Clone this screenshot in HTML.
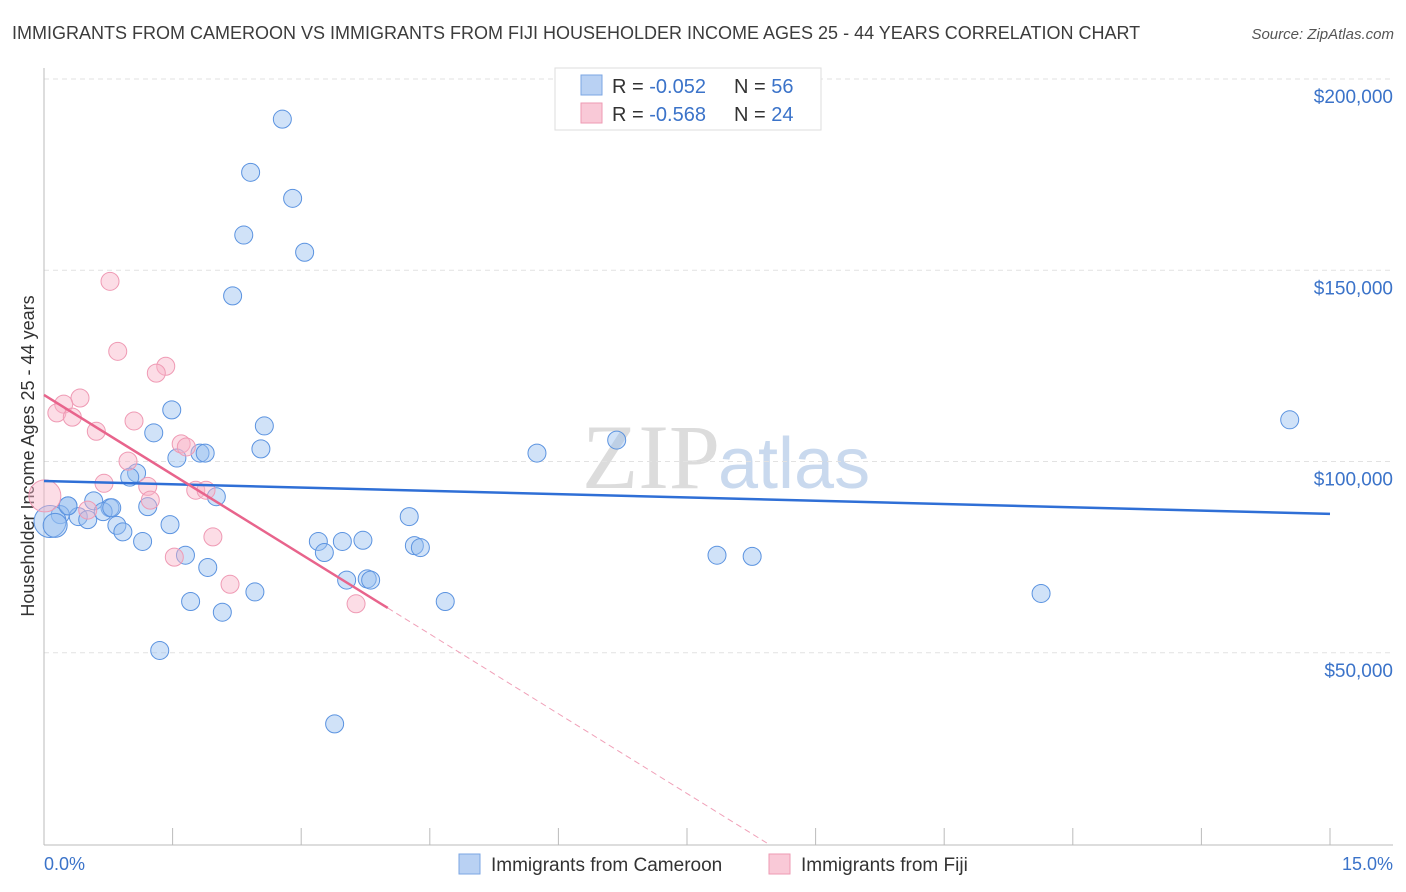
<!DOCTYPE html>
<html><head><meta charset="utf-8"><style>
body{margin:0;background:#fff;font-family:"Liberation Sans",sans-serif;}
svg{display:block}
</style></head><body>
<svg id="chart" width="1406" height="892" xmlns="http://www.w3.org/2000/svg">
<text x="12" y="39" font-size="18" fill="#3c3c3c">IMMIGRANTS FROM CAMEROON VS IMMIGRANTS FROM FIJI HOUSEHOLDER INCOME AGES 25 - 44 YEARS CORRELATION CHART</text>
<text x="1394" y="39" font-size="15" fill="#555" font-style="italic" text-anchor="end">Source: ZipAtlas.com</text>
<text x="720" y="488" font-size="92" fill="#dcdcdc" text-anchor="end" font-family="Liberation Serif">ZIP</text>
<text x="718" y="488" font-size="72" fill="#c9d9ee">atlas</text>
<g id="grid"></g>
<line x1="44" y1="68" x2="44" y2="845" stroke="#bbb"/>
<line x1="44" y1="845" x2="1393" y2="845" stroke="#bbb"/>
<g id="xticks"></g>
<g id="ylabels"></g>
<text transform="translate(34,456) rotate(-90)" font-size="18" fill="#333" text-anchor="middle">Householder Income Ages 25 - 44 years</text>
<text x="44" y="870" font-size="18" fill="#3b73c9">0.0%</text>
<text x="1393" y="870" font-size="18" fill="#3b73c9" text-anchor="end">15.0%</text>
<g id="points"></g>
<g id="trends"></g>
<g>
<rect x="555" y="68" width="266" height="62" fill="#fff" stroke="#ddd"/>
<rect x="581" y="75" width="21" height="20" fill="#b9d1f3" stroke="#7ba6e3"/>
<rect x="581" y="103" width="21" height="20" fill="#f9c9d7" stroke="#ee9ab3"/>
<text x="612" y="93" font-size="20" fill="#333">R = <tspan fill="#3b73c9">-0.052</tspan><tspan x="734">N = </tspan><tspan fill="#3b73c9">56</tspan></text>
<text x="612" y="121" font-size="20" fill="#333">R = <tspan fill="#3b73c9">-0.568</tspan><tspan x="734">N = </tspan><tspan fill="#3b73c9">24</tspan></text>
</g>
<g>
<rect x="459" y="854" width="21" height="20" fill="#b9d1f3" stroke="#7ba6e3"/>
<text x="491" y="871" font-size="19" fill="#333">Immigrants from Cameroon</text>
<rect x="769" y="854" width="21" height="20" fill="#f9c9d7" stroke="#ee9ab3"/>
<text x="801" y="871" font-size="19" fill="#333">Immigrants from Fiji</text>
</g>
</svg>
<script>
const yTicks=[50000,100000,150000,200000];
const yTickLabels=["$50,000","$100,000","$150,000","$200,000"];
const xTicks=[0,1.5,3,4.5,6,7.5,9,10.5,12,13.5,15];
const blueX=[2.78,2.41,2.90,2.33,3.04,2.20,1.49,2.57,1.28,2.53,1.55,1.82,1.88,1.08,1.00,2.01,0.58,0.28,0.77,1.21,0.19,0.40,0.51,0.69,0.07,0.13,0.85,0.92,1.47,1.15,1.65,1.91,1.71,2.08,1.35,2.46,3.20,3.27,3.48,3.72,3.53,3.77,3.81,4.26,4.32,4.39,4.68,3.39,5.75,6.68,7.85,8.26,11.63,14.53,0.79,0.28];
const blueY=[189.5,175.6,168.8,159.2,154.7,143.3,113.5,109.3,107.5,103.3,100.9,102.2,102.2,97.0,95.9,90.8,89.7,88.4,87.9,88.2,86.1,85.6,84.8,86.9,84.3,83.3,83.3,81.6,83.5,79.1,75.5,72.3,63.4,60.6,50.6,65.9,79.1,76.2,79.1,79.4,69.0,69.3,69.0,85.6,78.0,77.5,63.4,31.4,102.2,105.6,75.5,75.2,65.5,110.9,87.9,88.4];
const blueR=[9,9,9,9,9,9,9,9,9,9,9,9,9,9,9,9,9,9,9,9,9,9,9,9,16,12,9,9,9,9,9,9,9,9,9,9,9,9,9,9,9,9,9,9,9,9,9,9,9,9,9,9,9,9,9,9];
const pinkX=[0.77,0.86,1.42,1.31,0.42,0.23,0.15,0.33,0.61,1.05,0.98,1.60,1.66,0.70,1.21,1.24,0.51,1.77,1.89,1.97,1.52,2.17,3.64,0.01];
const pinkY=[147.1,128.8,124.9,123.1,116.6,115.0,112.7,111.6,107.9,110.6,100.1,104.6,103.8,94.3,93.5,89.9,87.3,92.5,92.5,80.3,75.0,67.9,62.8,91.0];
const pinkR=[9,9,9,9,9,9,9,9,9,9,9,9,9,9,9,9,9,9,9,9,9,9,9,16];
const blueTrend=[[0,94.9],[15,86.3]];
const pinkTrend=[[0,117.4],[4.01,61.7],[8.45,0]];
const NS="http://www.w3.org/2000/svg";
const X0=44,XW=1286,Y0=844,YH=765;
function xs(v){return X0+v/15*XW;}
function ys(v){return Y0-v/200*YH;}
function mk(tag,attrs,parent){const e=document.createElementNS(NS,tag);for(const k in attrs)e.setAttribute(k,attrs[k]);document.getElementById(parent).appendChild(e);return e;}
yTicks.forEach((t,i)=>{
 const y=ys(t/1000);
 const l=mk('line',{x1:44,x2:1393,y1:y,y2:y,stroke:'#e2e2e2','stroke-dasharray':'5,4'},'grid');
 
 
 const tx=mk('text',{x:1393,y:y+24,'font-size':19,fill:'#3b73c9','text-anchor':'end'},'ylabels');
 tx.textContent=yTickLabels[i];
 
 
});
xTicks.forEach(t=>{
 const x=xs(t);
 const l=mk('line',{x1:x,x2:x,y1:828,y2:845,stroke:'#bbb'},'xticks');
 
 
});
blueX.forEach((v,i)=>{
 const c=mk('circle',{cx:xs(v),cy:ys(blueY[i]),r:blueR[i],fill:'rgba(150,190,240,0.45)',stroke:'#5b93e0','stroke-width':1},'points');
 
 
});
pinkX.forEach((v,i)=>{
 const c=mk('circle',{cx:xs(v),cy:ys(pinkY[i]),r:pinkR[i],fill:'rgba(248,180,200,0.45)',stroke:'#ef9ab4','stroke-width':1},'points');
 
 
});
const bt=mk('line',{x1:xs(blueTrend[0][0]),y1:ys(blueTrend[0][1]),x2:xs(blueTrend[1][0]),y2:ys(blueTrend[1][1]),stroke:'#2f6fd6','stroke-width':2.5},'trends');


const pt=mk('line',{x1:xs(pinkTrend[0][0]),y1:ys(pinkTrend[0][1]),x2:xs(pinkTrend[1][0]),y2:ys(pinkTrend[1][1]),stroke:'#e8648c','stroke-width':2.5},'trends');


const pd=mk('line',{x1:xs(pinkTrend[1][0]),y1:ys(pinkTrend[1][1]),x2:xs(pinkTrend[2][0]),y2:ys(pinkTrend[2][1]),stroke:'#f0a0b8','stroke-width':1,'stroke-dasharray':'6,4'},'trends');


</script>
</body></html>
